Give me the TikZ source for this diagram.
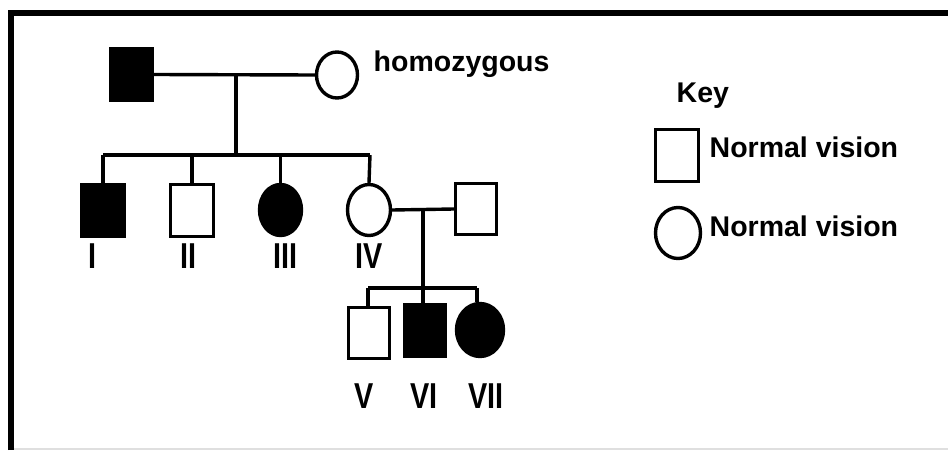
\documentclass[tikz,border=0pt]{standalone}
\usepackage{fontspec}
\setmainfont{Liberation Sans}
\usetikzlibrary{shapes.geometric}
\begin{document}
\begin{tikzpicture}[x=1pt,y=-1pt,
  line width=3.4pt,
  male/.style={draw,rectangle,inner sep=0pt,minimum width=#1},
  male/.default=42pt,
  female/.style={draw,ellipse,inner sep=0pt},
  affected/.style={fill=black},
  link/.style={line width=3.4pt},
  roman/.style={inner sep=0pt,anchor=base,font=\fontsize{36}{36}\selectfont\bfseries},
  label/.style={inner sep=0pt,anchor=base west,font=\fontsize{28.5}{30}\selectfont\bfseries}]
\useasboundingbox (0,0) rectangle (948,450);

% frame
\draw[gray!25,line width=2pt] (13,449) -- (948,449);
\draw[line width=6pt,line join=miter] (10.5,450) -- (10.5,13) -- (948,13);

% generation 1
\node[male,affected,minimum height=52pt] (f) at (131.5,74.5) {};
\node[female,minimum width=41pt,minimum height=46pt] (m) at (337,75) {};
\node[label] (homo) at (372,71) {homozygous};
\draw[link] (f.east) -- (m.west);
\coordinate (c1) at (236,74.5);
\coordinate (s1) at (236,155);
\coordinate (s1L) at (103,155);
\coordinate (s1R) at (370,155);
\draw[link] (c1) -- (s1);
\draw[link] (s1L) -- (s1R);

% generation 2
\node[male,affected,minimum height=52pt] (i) at (103,210.5) {};
\node[male=43pt,minimum height=52pt] (ii) at (192,210.5) {};
\node[female,affected,minimum width=42pt,minimum height=51pt] (iii) at (280.5,210) {};
\node[female,minimum width=43pt,minimum height=51pt] (iv) at (369,210) {};
\node[male=41pt,minimum height=51pt] (sp) at (476,209) {};
\draw[link] (s1L) -- (i.north);
\draw[link] (s1L -| ii.north) -- (ii.north);
\draw[link] (s1L -| iii.north) -- (iii.north);
\draw[link] (s1R) -- (iv.north);
\draw[link] (iv.east) -- (sp.west);

\node[roman] (li)   at (92,268)  {\scalebox{0.8}[1]{I}};
\node[roman] (lii)  at (188,268) {\scalebox{0.8}[1]{II}};
\node[roman] (liii) at (285,268) {\scalebox{0.8}[1]{III}};
\node[roman] (liv)  at (369,268) {\scalebox{0.8}[1]{IV}};

% generation 3
\coordinate (c2) at (423,209);
\coordinate (s2L) at (368,288);
\coordinate (s2R) at (477,288);
\node[male=41pt,minimum height=51pt] (v) at (369,333) {};
\node[male=41pt,affected,minimum height=52pt] (vi) at (425,330.5) {};
\node[female,affected,minimum width=47pt,minimum height=53pt] (vii) at (480,330) {};
\draw[link] (c2) -- (c2 |- vi.north);
\draw[link] (s2L) -- (s2R);
\draw[link] (s2L) -- (s2L |- v.north);
\draw[link] (s2R) -- (s2R |- vii.north);

\node[roman] (lv)   at (364,408) {\scalebox{0.8}[1]{V}};
\node[roman] (lvi)  at (424,408) {\scalebox{0.8}[1]{VI}};
\node[roman] (lvii) at (486,408) {\scalebox{0.8}[1]{VII}};

% key
\node[label] (key) at (675,102) {Key};
\node[male=43pt,minimum height=52pt] (kmale) at (677,155.5) {};
\node[label] (kmt) at (708,157) {Normal vision};
\node[female,minimum width=45pt,minimum height=51pt] (kfem) at (678,233) {};
\node[label] (kft) at (708,236) {Normal vision};
\end{tikzpicture}
\end{document}
